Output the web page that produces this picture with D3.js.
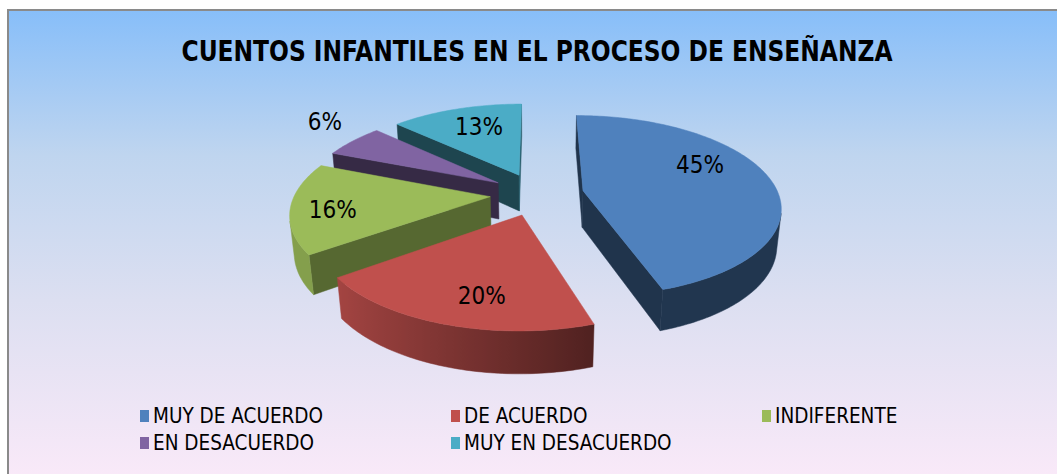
<!DOCTYPE html>
<html>
<head>
<meta charset="utf-8">
<script src="https://cdn.jsdelivr.net/npm/d3@7"></script>
<style>
  body { margin: 0; overflow: hidden; background: #fff; }
  text { font-family: "Liberation Sans Narrow", "DejaVu Sans Condensed", "Open Sans", sans-serif; }
</style>
</head>
<body>
<svg></svg>
<script>
// data
const categories = ["MUY DE ACUERDO", "DE ACUERDO", "INDIFERENTE", "EN DESACUERDO", "MUY EN DESACUERDO"];
const percents = [45, 20, 16, 6, 13];
const pctLabels = ["45%", "20%", "16%", "6%", "13%"];
const colors = ["#4F81BD", "#C0504D", "#9BBB59", "#8064A2", "#4BACC6"];
const title = "CUENTOS INFANTILES EN EL PROCESO DE ENSEÑANZA";

// layout
const W = 1057, H = 474;
const cam = { cx: 537, cy: 194, f: 1045, D: 5.35, tilt: 27 * Math.PI / 180 };
const thick = 0.215, explode = 0.24;
const labelTurn = [-17, -5.4, -3.3, 5.2, 2.7];     // degrees off the mid angle
const labelRadius = [0.72, 0.75, 0.79, 1.33, 0.69];

let svg = d3.select("svg").attr("width", W).attr("height", H);
const color = d3.scaleOrdinal().domain(categories).range(colors);

// background
let defs = svg.append("defs");
let bg = defs.append("linearGradient").attr("id", "bg")
    .attr("x1", 0).attr("y1", 0).attr("x2", 0).attr("y2", 1);
[[0, "#87BEF9"], [0.3, "#BFD5EF"], [0.6, "#DCDFF1"], [1, "#FCEAF9"]].forEach(s => {
    bg.append("stop").attr("offset", s[0]).attr("stop-color", s[1]);
});
svg.append("rect")
    .attr("x", 8).attr("y", 10)
    .attr("width", W + 10).attr("height", H + 10)
    .style("fill", "url(#bg)")
    .style("stroke", "#8a8a8a")
    .style("stroke-width", 2);

svg.append("text")
    .attr("x", 537).attr("y", 61)
    .attr("text-anchor", "middle")
    .attr("textLength", 711).attr("lengthAdjust", "spacingAndGlyphs")
    .style("font-size", "28.5px").style("font-weight", "bold")
    .style("fill", "#000")
    .text(title);

// 3d projection
function project(X, Y, Z) {
    const c = Math.cos(cam.tilt), s = Math.sin(cam.tilt);
    const yc = Y * c + Z * s, zc = cam.D + Z * c - Y * s;
    return [cam.cx + cam.f * X / zc, cam.cy - cam.f * yc / zc, zc];
}

function shade(col, k) {
    const c = d3.rgb(col);
    return d3.rgb(c.r * k, c.g * k, c.b * k).formatHex();
}

function area(p) {
    let a = 0;
    for (let i = 0; i < p.length; i++) {
        const q = p[(i + 1) % p.length];
        a += p[i][0] * q[1] - q[0] * p[i][1];
    }
    return a;
}

const arcs = d3.pie().sort(null).value(d => d)(percents);
const line = d3.line();
const xy = p => p.map(d => [d[0], d[1]]);

let slices = arcs.map((a, i) => {
    const mid = (a.startAngle + a.endAngle) / 2;
    const ox = explode * Math.sin(mid), oz = explode * Math.cos(mid);
    const pt = (r, t, y) => project(ox + r * Math.sin(t), y, oz + r * Math.cos(t));
    const n = Math.max(6, Math.ceil((a.endAngle - a.startAngle) / (Math.PI / 180)));
    const angs = d3.range(n + 1).map(j => a.startAngle + (a.endAngle - a.startAngle) * j / n);
    const base = color(categories[i]);

    let walls = [];
    // radial walls
    const radial = (t, normal, start) => {
        const q = [pt(0, 0, 0), pt(1, t, 0), pt(1, t, -thick), pt(0, 0, -thick)];
        const p = start ? q : [q[0], q[3], q[2], q[1]];
        if (area(p) >= 0) return;
        const k = 0.4 + 0.17 * Math.max(0, Math.cos(normal - 120 * Math.PI / 180));
        walls.push({ p: p, fill: shade(base, k) });
    };
    radial(a.startAngle, a.startAngle - Math.PI / 2, true);
    radial(a.endAngle, a.endAngle + Math.PI / 2, false);

    // outer wall: the segments facing the camera, as one path with a shaded gradient
    let seg = [];
    for (let j = 0; j < n; j++) {
        const t0 = angs[j], t1 = angs[j + 1];
        const p = [pt(1, t0, 0), pt(1, t1, 0), pt(1, t1, -thick), pt(1, t0, -thick)];
        if (area(p) < 0) seg.push(j);
    }
    let outer = null;
    if (seg.length) {
        const ts = d3.range(seg[0], seg[seg.length - 1] + 2).map(j => angs[j]);
        const topE = ts.map(t => pt(1, t, 0)), botE = ts.map(t => pt(1, t, -thick)).reverse();
        const stops = ts.map(t => ({
            x: pt(1, t, 0)[0],
            c: shade(base, 0.42 + 0.43 * Math.min(1, Math.max(0, (-Math.sin(t) + 0.3) / 1.1)))
        })).sort((u, v) => u.x - v.x);
        outer = { p: topE.concat(botE), stops };
    }

    const top = [pt(0, 0, 0)].concat(angs.map(t => pt(1, t, 0)));
    const lt = mid + labelTurn[i] * Math.PI / 180;
    const lab = pt(labelRadius[i], lt, 0);
    const depth = project(ox + 0.5 * Math.sin(mid), 0, oz + 0.5 * Math.cos(mid))[2];
    return { i, base, walls, outer, top, lab, depth };
});

slices.sort((u, v) => v.depth - u.depth);

let pieG = svg.append("g");
slices.forEach(s => {
    let g = pieG.append("g");
    s.walls.forEach(f => {
        g.append("path")
            .attr("d", line(xy(f.p)) + "Z")
            .style("fill", f.fill)
            .style("stroke", f.fill)
            .style("stroke-width", 0.5)
            .style("stroke-linejoin", "round");
    });
    if (s.outer) {
        const x0 = s.outer.stops[0].x, x1 = s.outer.stops[s.outer.stops.length - 1].x;
        let gr = defs.append("linearGradient")
            .attr("id", "wall" + s.i)
            .attr("gradientUnits", "userSpaceOnUse")
            .attr("x1", x0).attr("y1", 0).attr("x2", x1).attr("y2", 0);
        s.outer.stops.forEach(st => {
            gr.append("stop")
                .attr("offset", x1 > x0 ? (st.x - x0) / (x1 - x0) : 0)
                .attr("stop-color", st.c);
        });
        g.append("path")
            .attr("d", line(xy(s.outer.p)) + "Z")
            .style("fill", `url(#wall${s.i})`)
            .style("stroke", `url(#wall${s.i})`)
            .style("stroke-width", 0.5);
    }
    g.append("path")
        .attr("d", line(xy(s.top)) + "Z")
        .style("fill", s.base)
        .style("stroke", s.base)
        .style("stroke-width", 0.5);
});

pieG.selectAll("text.pct")
    .data(slices)
    .join("text")
    .attr("class", "pct")
    .attr("x", d => d.lab[0])
    .attr("y", d => d.lab[1])
    .attr("dy", "0.35em")
    .attr("text-anchor", "middle")
    .style("font-size", "24px")
    .style("fill", "#000")
    .text(d => pctLabels[d.i]);

// legend
const legX = d3.scaleLinear().domain([0, 1]).range([140, 451]);
let leg = svg.append("g").selectAll("g")
    .data(categories)
    .join("g")
    .attr("transform", (d, i) => `translate(${legX(i % 3)},${416 + 27 * Math.floor(i / 3)})`);
leg.append("rect")
    .attr("x", 0).attr("y", -6)
    .attr("width", 9).attr("height", 12)
    .style("fill", d => color(d));
leg.append("text")
    .attr("x", 13).attr("y", 0)
    .attr("dy", "0.36em")
    .style("font-size", "20.5px")
    .style("fill", "#000")
    .text(d => d);
</script>
</body>
</html>
